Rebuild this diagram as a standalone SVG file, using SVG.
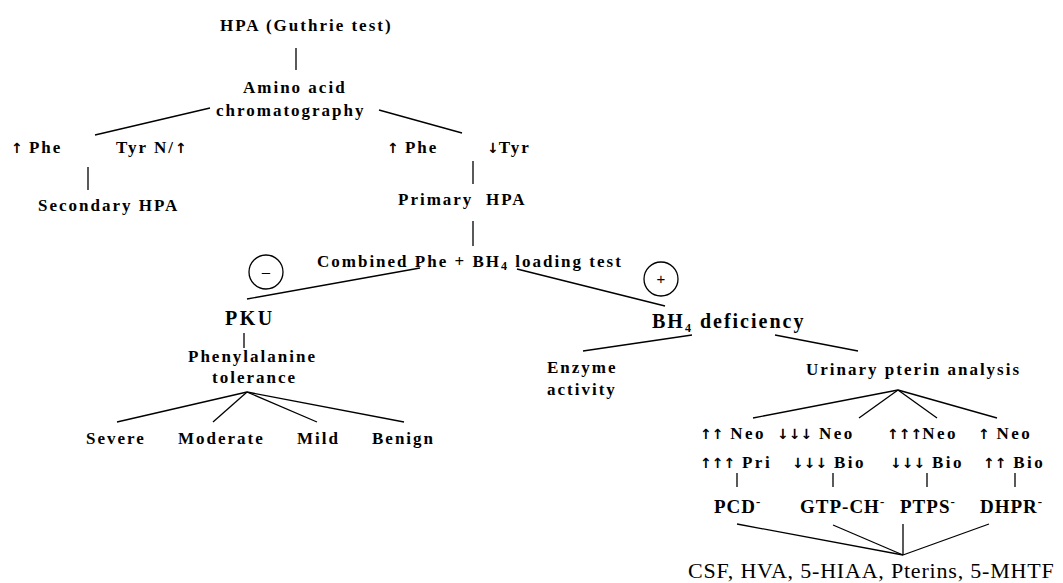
<svg xmlns="http://www.w3.org/2000/svg" width="1063" height="583" viewBox="0 0 1063 583">
<style>
text{font-family:"Liberation Serif","Times New Roman",serif;fill:#000}
.b{font-weight:bold;font-size:17px;letter-spacing:2px}
.a{font-weight:bold;font-size:17px;letter-spacing:2.5px}
.l{font-weight:bold;font-size:20px;letter-spacing:2px}
.e{font-weight:bold;font-size:19px;letter-spacing:1px}
.r{font-size:22px;letter-spacing:0.8px}
.ar{font-family:"DejaVu Sans",sans-serif;font-weight:bold;font-size:14px;letter-spacing:0px}
.sub{font-size:12px}
.sup{font-size:13px}
#connectors line{stroke:#000;stroke-width:1.3}
.circ{fill:none;stroke:#000;stroke-width:1.3}
.sign{font-family:"Liberation Sans",Arial,sans-serif;font-size:15px;text-anchor:middle}
</style>
<rect width="1063" height="583" fill="#fff"/>
<g id="connectors">
<line x1="296" y1="48" x2="296" y2="70"/>
<line x1="210" y1="108" x2="95" y2="135"/>
<line x1="379" y1="110" x2="462" y2="133"/>
<line x1="88" y1="167" x2="88" y2="190"/>
<line x1="473" y1="161" x2="473" y2="184"/>
<line x1="473" y1="221" x2="473" y2="246"/>
<line x1="420" y1="268" x2="247" y2="299"/>
<line x1="517" y1="269" x2="665" y2="306"/>
<line x1="244" y1="333" x2="244" y2="348"/>
<line x1="247" y1="392" x2="117" y2="422"/>
<line x1="247" y1="392" x2="213" y2="422"/>
<line x1="247" y1="392" x2="317" y2="422"/>
<line x1="247" y1="392" x2="404" y2="422"/>
<line x1="692" y1="335" x2="583" y2="351"/>
<line x1="775" y1="335" x2="858" y2="351"/>
<line x1="898" y1="390" x2="753" y2="418"/>
<line x1="898" y1="390" x2="859" y2="418"/>
<line x1="898" y1="390" x2="937" y2="418"/>
<line x1="898" y1="390" x2="997" y2="418"/>
<line x1="737" y1="473" x2="737" y2="487"/>
<line x1="833" y1="473" x2="833" y2="487"/>
<line x1="927" y1="473" x2="927" y2="487"/>
<line x1="1015" y1="473" x2="1015" y2="487"/>
<line x1="737" y1="524" x2="903" y2="555"/>
<line x1="833" y1="525" x2="903" y2="555"/>
<line x1="903" y1="524" x2="903" y2="555"/>
<line x1="989" y1="524" x2="903" y2="555"/>
</g>
<g id="n-hpa"><text class="b" x="220" y="31">HPA (Guthrie test)</text></g>
<g id="n-aac"><text class="b" x="243" y="93">Amino acid</text><text class="b" x="216" y="116">chromatography</text></g>
<g id="n-left-result"><text class="b" x="11" y="153"><tspan class="ar">↑</tspan> Phe</text><text class="b" x="116" y="153">Tyr N/<tspan class="ar">↑</tspan></text></g>
<g id="n-secondary"><text class="b" x="38" y="211">Secondary HPA</text></g>
<g id="n-right-result"><text class="b" x="387" y="153"><tspan class="ar">↑</tspan> Phe</text><text class="b" x="487" y="153"><tspan class="ar">↓</tspan>Tyr</text></g>
<g id="n-primary"><text class="b" x="398" y="205">Primary<tspan x="486">HPA</tspan></text></g>
<g id="n-combined"><text class="b" x="317" y="267">Combined Phe + BH<tspan class="sub" dy="3">4</tspan><tspan dy="-3"> loading test</tspan></text></g>
<g id="n-minus"><circle class="circ" cx="266" cy="272" r="17"/><text class="sign" x="266" y="277">–</text></g>
<g id="n-plus"><circle class="circ" cx="661" cy="279" r="17"/><text class="sign" x="661" y="284">+</text></g>
<g id="n-pku"><text class="l" x="225" y="325" style="letter-spacing:2.5px">PKU</text></g>
<g id="n-phe-tol"><text class="b" x="188" y="362">Phenylalanine</text><text class="b" x="212" y="383">tolerance</text></g>
<g id="n-severe"><text class="b" x="86" y="444">Severe</text></g>
<g id="n-moderate"><text class="b" x="178" y="444">Moderate</text></g>
<g id="n-mild"><text class="b" x="297" y="444">Mild</text></g>
<g id="n-benign"><text class="b" x="372" y="444">Benign</text></g>
<g id="n-bh4"><text class="l" x="652" y="328">BH<tspan class="sub" dy="4">4</tspan><tspan dy="-4"> deficiency</tspan></text></g>
<g id="n-enzyme"><text class="b" x="547" y="373">Enzyme</text><text class="b" x="547" y="395">activity</text></g>
<g id="n-urinary"><text class="b" x="806" y="375">Urinary pterin analysis</text></g>
<g id="n-pcd-pattern"><text class="a" x="700" y="439"><tspan class="ar">↑↑</tspan> Neo</text><text class="a" x="700" y="468"><tspan class="ar">↑↑↑</tspan> Pri</text></g>
<g id="n-gtp-pattern"><text class="a" x="777" y="439"><tspan class="ar">↓↓↓</tspan> Neo</text><text class="a" x="792" y="468"><tspan class="ar">↓↓↓</tspan> Bio</text></g>
<g id="n-ptps-pattern"><text class="a" x="887" y="439"><tspan class="ar">↑↑↑</tspan>Neo</text><text class="a" x="890" y="468"><tspan class="ar">↓↓↓</tspan> Bio</text></g>
<g id="n-dhpr-pattern"><text class="a" x="978" y="439"><tspan class="ar">↑</tspan> Neo</text><text class="a" x="983" y="468"><tspan class="ar">↑↑</tspan> Bio</text></g>
<g id="n-pcd"><text class="e" x="714" y="513">PCD<tspan class="sup" dy="-7">-</tspan></text></g>
<g id="n-gtp"><text class="e" x="800" y="513">GTP-CH<tspan class="sup" dy="-7">-</tspan></text></g>
<g id="n-ptps"><text class="e" x="900" y="513">PTPS<tspan class="sup" dy="-7">-</tspan></text></g>
<g id="n-dhpr"><text class="e" x="980" y="513">DHPR<tspan class="sup" dy="-7">-</tspan></text></g>
<g id="n-csf"><text class="r" x="688" y="578">CSF, HVA, 5-HIAA, Pterins, 5-MHTF</text></g>
</svg>
